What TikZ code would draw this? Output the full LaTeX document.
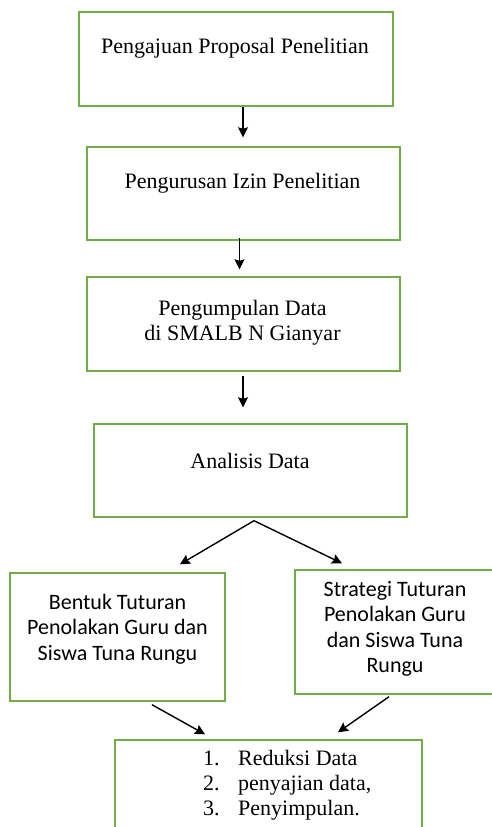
\documentclass[tikz,border=0pt]{standalone}
\usepackage{fontspec}
\setmainfont{Liberation Serif}
\newfontfamily\calfont{Carlito}
\usetikzlibrary{arrows.meta,calc}
\definecolor{boxgreen}{RGB}{112,173,71}
\begin{document}
\begin{tikzpicture}[x=1pt,y=-1pt,
  box/.style n args={2}{draw=boxgreen,line width=1.4pt,rectangle,inner sep=0pt,minimum width=#1,minimum height=#2},
  txt/.style={inner sep=0pt,font=\fontsize{22}{25}\selectfont,align=center},
  ctxt/.style={inner sep=0pt,font=\calfont\fontsize{22}{25.5}\selectfont,align=center},
  arr/.style={line width=1.4pt,-{Stealth[length=10pt,width=10pt,inset=1.5pt]}}]
\useasboundingbox (0,0) rectangle (492,827);
\fill[white] (0,0) rectangle (492,827);
% boxes
\node[box={314pt}{94pt}] (b1) at (236,59) {};
\node[box={313pt}{93pt}] (b2) at (243.5,193.5) {};
\node[box={313pt}{94pt}] (b3) at (243.5,324) {};
\node[box={313pt}{93pt}] (b4) at (250.5,470.5) {};
\node[box={215pt}{128pt}] (b5) at (117.5,637) {};
\node[box={202pt}{124pt}] (b6) at (396,632) {};
\node[box={307pt}{120pt}] (b7) at (268.5,800) {};
% texts
\node[txt,anchor=base] (t1) at (235,53) {Pengajuan Proposal Penelitian};
\node[txt,anchor=base] (t2) at (242.5,188) {Pengurusan Izin Penelitian};
\node[txt,anchor=north] (t3) at (242.5,300) {Pengumpulan Data\\di SMALB N Gianyar};
\node[txt,anchor=base] (t4) at (250,468) {Analisis Data};
\node[ctxt,anchor=north] (t5) at (117.5,594) {Bentuk Tuturan\\Penolakan Guru dan\\Siswa Tuna Rungu};
\node[ctxt,anchor=north] (t6) at (395,581) {Strategi Tuturan\\Penolakan Guru\\dan Siswa Tuna\\Rungu};
\node[txt,anchor=north west,align=left] (t7) at (203,750) {\makebox[35pt][l]{1.}Reduksi Data\\\makebox[35pt][l]{2.}penyajian data,\\\makebox[35pt][l]{3.}Penyimpulan.};
% connectors
\draw[arr] ([xshift=7pt]b1.south) -- ([xshift=-0.5pt,yshift=9pt]b2.north);
\draw[arr] ([xshift=-4pt,yshift=3pt]b2.south) -- ([xshift=-4pt,yshift=7pt]b3.north);
\draw[arr] ([xshift=-0.5pt,yshift=-4pt]b3.south) -- ([xshift=-7.5pt,yshift=16pt]b4.north);
\coordinate (split) at ([xshift=3.5pt,yshift=-3pt]b4.south);
\draw[arr] (split) -- ([xshift=62.5pt,yshift=8pt]b5.north);
\draw[arr] (split) -- ([xshift=-54pt,yshift=6pt]b6.north);
\draw[arr] ([xshift=34.5pt,yshift=-3pt]b5.south) -- ([xshift=-63.5pt,yshift=5pt]b7.north);
\draw[arr] ([xshift=-7pt,yshift=-2pt]b6.south) -- ([xshift=69.5pt,yshift=7pt]b7.north);
\end{tikzpicture}
\end{document}
